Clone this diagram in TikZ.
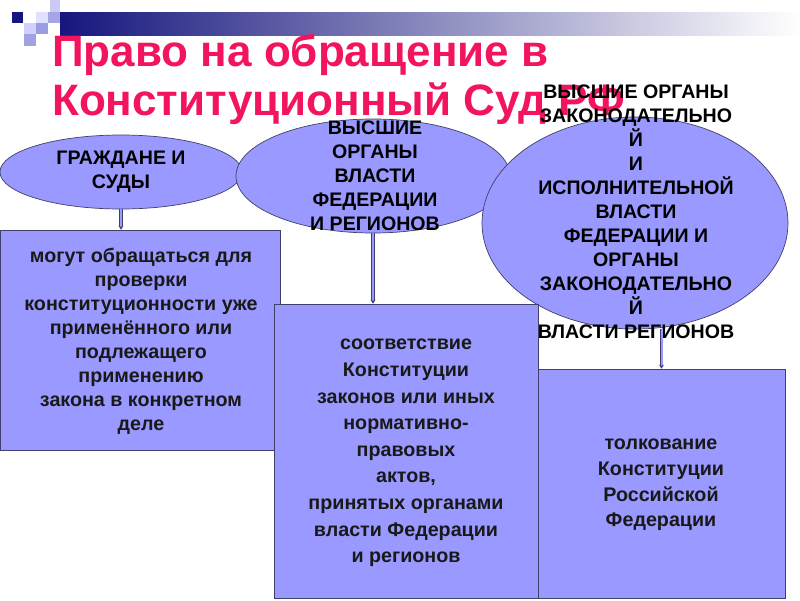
\documentclass[tikz,border=0pt]{standalone}
\usepackage{fontspec}
\setmainfont{Liberation Sans}
\usetikzlibrary{shapes.geometric,arrows.meta}
\definecolor{lav}{HTML}{9999FF}
\definecolor{edge}{HTML}{40406A}
\definecolor{navy}{HTML}{16167E}
\definecolor{titlered}{HTML}{F2145C}
\tikzset{
  oval/.style={ellipse,draw=edge,line width=0.7pt,fill=lav,inner sep=0pt},
  card/.style={rectangle,draw=edge,line width=0.7pt,fill=lav,inner sep=0pt},
  lbl/.style={align=center,font=\fontsize{19.6}{24}\selectfont\bfseries,text=black,inner sep=0pt},
  boxtext/.style={align=center,font=\fontsize{19.7}{24}\selectfont\bfseries,text=black!90,inner sep=0pt},
  ttl/.style={anchor=base west,font=\fontsize{44}{49}\selectfont\bfseries,text=titlered,inner sep=0pt},
  conn/.style={draw=edge,line width=0.6pt,double=lav,double distance=2pt,-{Stealth[length=4pt,width=5pt]}}
}
\begin{document}
\begin{tikzpicture}[x=1pt,y=1pt]
\useasboundingbox (0,0) rectangle (800,-600);
\fill[white] (0,0) rectangle (800,-600);
% decoration
\shade[left color=navy,right color=white] (60,-12) rectangle (800,-35);
\fill[navy] (12,-12) rectangle (23,-23);
\fill[black!10!lav!45] (50,0) rectangle (60,-12);
\fill[lav!30] (36,-12) rectangle (48,-23);
\fill[navy!35!lav!60] (48,-12) rectangle (60,-23);
\fill[lav!45] (24,-23) rectangle (36,-34);
\fill[navy!30!lav!70] (36,-23) rectangle (48,-34);
\fill[navy!40!lav!60] (24,-34) rectangle (36,-46);
% title
\node[ttl] (title1) at (52,-66) {Право на обращение в};
\node[ttl] (title2) at (52,-115) {Конституционный Суд РФ};
% ellipses
\node[oval,minimum width=242pt,minimum height=74pt] (e1) at (121,-172) {};
\node[oval,minimum width=274pt,minimum height=114pt] (e2) at (373,-176) {};
\node[oval,minimum width=306pt,minimum height=212pt] (e3) at (635,-223) {};
\node[lbl] (t1) at (121,-172) {ГРАЖДАНЕ И\\СУДЫ};
\node[lbl] (t2) at (375,-176) {ВЫСШИЕ\\ОРГАНЫ\\ВЛАСТИ\\ФЕДЕРАЦИИ\\И РЕГИОНОВ};
\node[lbl] (t3) at (636,-212) {ВЫСШИЕ ОРГАНЫ\\ЗАКОНОДАТЕЛЬНО\\Й\\И\\ИСПОЛНИТЕЛЬНОЙ\\ВЛАСТИ\\ФЕДЕРАЦИИ И\\ОРГАНЫ\\ЗАКОНОДАТЕЛЬНО\\Й\\ВЛАСТИ РЕГИОНОВ};
% boxes
\node[card,minimum width=280pt,minimum height=220pt] (b1) at (140,-340) {};
\node[card,minimum width=264pt,minimum height=294pt] (b2) at (406,-451) {};
\node[card,minimum width=247pt,minimum height=229pt] (b3) at (661.5,-483.5) {};
\node[boxtext] (bt1) at (141,-341) {могут обращаться для\\проверки\\ конституционности уже\\применённого или\\подлежащего\\применению\\закона в конкретном\\деле};
\node[boxtext,font=\fontsize{19.7}{26.6}\selectfont\bfseries] (bt2) at (406,-453) {соответствие\\Конституции\\законов или иных\\нормативно-\\правовых\\актов,\\ принятых органами\\власти Федерации\\и регионов};
\node[boxtext,font=\fontsize{19.7}{25.7}\selectfont\bfseries] (bt3) at (661,-485) {толкование\\ Конституции\\Российской\\Федерации};
% connectors
\draw[conn] (e1.south) -- (e1.south |- b1.north);
\draw[conn] (e2.south) -- (e2.south |- b2.north);
\draw[conn] (e3.south -| b3.north) -- (b3.north);
\end{tikzpicture}
\end{document}
